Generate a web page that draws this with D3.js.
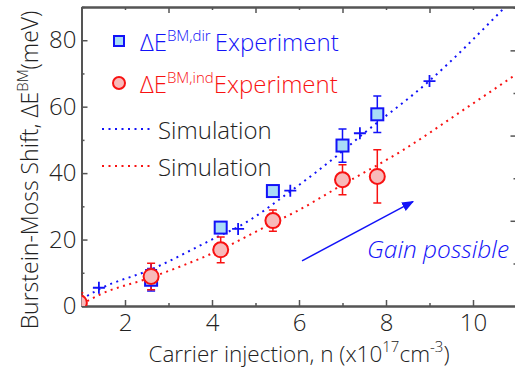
<!DOCTYPE html>
<html>
<head>
<meta charset="utf-8">
<script src="https://cdn.jsdelivr.net/npm/d3@7"></script>
<style>
  html, body { margin: 0; padding: 0; background: #fff; }
  svg { display: block; font-family: "Open Sans", "Noto Sans", sans-serif; font-weight: 300; }
</style>
</head>
<body>
<div id="chart"></div>
<script>
// Burstein-Moss shift vs carrier injection

// experiment, direct gap (squares)
const dirX   = [2.6, 4.2, 5.4, 7.0, 7.8];
const dirY   = [7.9, 23.6, 34.6, 48.3, 57.7];
const dirErr = [3.4, 1.0, 1.0, 5.0, 5.5];

// experiment, indirect gap (circles)
const indX   = [0.95, 2.6, 4.2, 5.4, 7.0, 7.8];
const indY   = [1.0, 8.9, 16.9, 25.7, 38.0, 39.0];
const indErr = [3.0, 4.0, 3.9, 3.2, 4.5, 8.0];

// simulation curves
const simDirX = [1.0, 1.4, 2.6, 4.2, 4.6, 5.8, 7.0, 7.4, 9.0, 10.7];
const simDirY = [2.0, 5.0, 11.0, 21.3, 23.8, 34.5, 46.6, 51.0, 67.8, 89.5];
const simIndX = [1.0, 1.4, 2.6, 4.2, 5.4, 5.9, 7.0, 8.4, 9.8, 11.0];
const simIndY = [0.5, 3.3, 8.6, 17.0, 25.0, 28.2, 36.5, 47.0, 59.2, 69.8];

// simulation markers (plus signs on the direct curve)
const plusX = [1.4, 2.6, 4.6, 5.8, 7.4, 9.0];
const plusY = [5.5, 10.9, 23.2, 34.7, 52.0, 67.7];

// ticks
const xMajor = [2, 4, 6, 8, 10];
const xMinor = [1, 3, 5, 7, 9, 11];
const yMajor = [0, 20, 40, 60, 80];
const yMinor = [10, 30, 50, 70, 90];
const rightMajor = [1, 2, 3];
const rightMinor = [0.5, 1.5, 2.5, 3.5];

const W = 515, H = 369;
const m = { left: 81.5, right: -1.5, top: 7, bottom: 63 };
const FS = 24;

const x = d3.scaleLinear().domain([1, 11]).range([m.left, W - m.right]);
const y = d3.scaleLinear().domain([0, 90]).range([H - m.bottom, m.top]);
const yR = d3.scaleLinear().domain([0, 90 / 25.65]).range([H - m.bottom, m.top]);

const BLUE = '#1212f8', RED = '#f81212', AXIS = '#555', INK = '#222';

const svg = d3.select('#chart').append('svg')
  .attr('width', W).attr('height', H);

svg.append('defs').append('clipPath').attr('id', 'plotClip')
  .append('rect')
  .attr('x', m.left).attr('y', m.top)
  .attr('width', x.range()[1] - m.left).attr('height', y.range()[0] - m.top);

svg.select('defs').append('marker')
  .attr('id', 'arrowHead').attr('viewBox', '0 0 10 10')
  .attr('refX', 9).attr('refY', 5)
  .attr('markerWidth', 8).attr('markerHeight', 8)
  .attr('orient', 'auto')
  .append('path').attr('d', 'M0,1 L10,5 L0,9 Z').attr('fill', BLUE);

// axes: ticks pointing inward
function styleAxis(sel) {
  sel.select('.domain').attr('stroke', AXIS).attr('stroke-width', 2);
  sel.selectAll('.tick line').attr('stroke', AXIS).attr('stroke-width', 1.5);
  sel.selectAll('text').attr('fill', INK).attr('font-size', FS + 'px')
    .attr('font-family', '"Open Sans", "Noto Sans", sans-serif')
    .attr('font-weight', 300);
}

// bottom
svg.append('g').attr('transform', `translate(0,${y.range()[0]})`)
  .call(d3.axisBottom(x).tickValues(xMajor).tickSize(-6).tickPadding(8).tickSizeOuter(0))
  .call(styleAxis);
svg.append('g').attr('transform', `translate(0,${y.range()[0]})`)
  .call(d3.axisBottom(x).tickValues(xMinor).tickSize(-3).tickFormat('').tickSizeOuter(0))
  .call(styleAxis);
// top
svg.append('g').attr('transform', `translate(0,${m.top})`)
  .call(d3.axisTop(x).tickValues(xMinor).tickSize(-6).tickFormat('').tickSizeOuter(0))
  .call(styleAxis);
svg.append('g').attr('transform', `translate(0,${m.top})`)
  .call(d3.axisTop(x).tickValues(xMajor).tickSize(-3).tickFormat('').tickSizeOuter(0))
  .call(styleAxis);
// left
svg.append('g').attr('transform', `translate(${m.left},0)`)
  .call(d3.axisLeft(y).tickValues(yMajor).tickSize(-6).tickPadding(5).tickSizeOuter(0))
  .call(styleAxis);
svg.append('g').attr('transform', `translate(${m.left},0)`)
  .call(d3.axisLeft(y).tickValues(yMinor).tickSize(-3).tickFormat('').tickSizeOuter(0))
  .call(styleAxis);
// right (secondary scale, labels off-canvas)
svg.append('g').attr('transform', `translate(${x.range()[1]},0)`)
  .call(d3.axisRight(yR).tickValues(rightMajor).tickSize(-6).tickFormat('').tickSizeOuter(0))
  .call(styleAxis);
svg.append('g').attr('transform', `translate(${x.range()[1]},0)`)
  .call(d3.axisRight(yR).tickValues(rightMinor).tickSize(-3).tickFormat('').tickSizeOuter(0))
  .call(styleAxis);

const plot = svg.append('g').attr('clip-path', 'url(#plotClip)');

// simulation curves
const line = d3.line().x(d => x(d[0])).y(d => y(d[1])).curve(d3.curveMonotoneX);
plot.append('path').datum(d3.zip(simDirX, simDirY)).attr('d', line)
  .attr('fill', 'none').attr('stroke', BLUE).attr('stroke-width', 2)
  .attr('stroke-dasharray', '2,4.5');
plot.append('path').datum(d3.zip(simIndX, simIndY)).attr('d', line)
  .attr('fill', 'none').attr('stroke', RED).attr('stroke-width', 2)
  .attr('stroke-dasharray', '2,4.5');

// plus markers
plot.selectAll('.plus').data(d3.zip(plusX, plusY)).enter().append('path')
  .attr('d', d => `M${x(d[0]) - 6},${y(d[1])}h12M${x(d[0])},${y(d[1]) - 6}v12`)
  .attr('stroke', BLUE).attr('stroke-width', 1.8);

// error bars
function errorBars(xs, ys, es, color) {
  const g = plot.append('g').attr('stroke', color).attr('stroke-width', 1.5);
  xs.forEach((xv, i) => {
    const cx = x(xv), y0 = y(ys[i] - es[i]), y1 = y(ys[i] + es[i]);
    g.append('line').attr('x1', cx).attr('x2', cx).attr('y1', y0).attr('y2', y1);
    g.append('line').attr('x1', cx - 4).attr('x2', cx + 4).attr('y1', y0).attr('y2', y0);
    g.append('line').attr('x1', cx - 4).attr('x2', cx + 4).attr('y1', y1).attr('y2', y1);
  });
}
errorBars(dirX, dirY, dirErr, BLUE);
errorBars(indX, indY, indErr, RED);

// squares (direct)
plot.selectAll('.sq').data(d3.zip(dirX, dirY)).enter().append('rect')
  .attr('x', d => x(d[0]) - 6).attr('y', d => y(d[1]) - 6)
  .attr('width', 12).attr('height', 12)
  .attr('fill', '#a9dcf7').attr('stroke', BLUE).attr('stroke-width', 2);

// circles (indirect)
plot.selectAll('.ci').data(d3.zip(indX, indY)).enter().append('circle')
  .attr('cx', d => x(d[0])).attr('cy', d => y(d[1])).attr('r', 7.5)
  .attr('fill', '#f8baba').attr('stroke', RED).attr('stroke-width', 2);

// arrow + label
svg.append('line')
  .attr('x1', x(6.07)).attr('y1', y(13.6))
  .attr('x2', x(8.62)).attr('y2', y(31.4))
  .attr('stroke', BLUE).attr('stroke-width', 1.5)
  .attr('marker-end', 'url(#arrowHead)');
svg.append('text')
  .attr('x', 367).attr('y', 258)
  .attr('fill', BLUE).attr('font-size', '24.5px').attr('font-style', 'italic')
  .text('Gain possible');

// legend
const leg = svg.append('g');
leg.append('rect').attr('x', 114).attr('y', 36).attr('width', 10).attr('height', 10)
  .attr('fill', '#a9dcf7').attr('stroke', BLUE).attr('stroke-width', 2);
leg.append('circle').attr('cx', 119).attr('cy', 83).attr('r', 6)
  .attr('fill', '#f8baba').attr('stroke', RED).attr('stroke-width', 2);

function legendLabel(yPos, color, sup, gap) {
  const t = leg.append('text').attr('x', 140).attr('y', yPos)
    .attr('fill', color).attr('font-size', FS + 'px');
  t.append('tspan').text('ΔE');
  t.append('tspan').attr('font-size', '15px').attr('dy', -10).text(sup);
  t.append('tspan').attr('dy', 10).attr('dx', gap).text('Experiment');
}
legendLabel(51, BLUE, 'BM,dir', 4);
legendLabel(93, RED, 'BM,ind', 0);

leg.append('line').attr('x1', 102).attr('x2', 150).attr('y1', 129).attr('y2', 129)
  .attr('stroke', BLUE).attr('stroke-width', 2).attr('stroke-dasharray', '2,4.5');
leg.append('line').attr('x1', 102).attr('x2', 150).attr('y1', 166).attr('y2', 166)
  .attr('stroke', RED).attr('stroke-width', 2).attr('stroke-dasharray', '2,4.5');
leg.append('text').attr('x', 158).attr('y', 139).attr('fill', INK)
  .attr('font-size', FS + 'px').text('Simulation');
leg.append('text').attr('x', 158).attr('y', 176).attr('fill', INK)
  .attr('font-size', FS + 'px').text('Simulation');

// axis titles
const xt = svg.append('text').attr('x', 299).attr('y', 362)
  .attr('text-anchor', 'middle').attr('fill', INK).attr('font-size', '22.5px');
xt.append('tspan').text('Carrier injection, n (x10');
xt.append('tspan').attr('font-size', '15px').attr('dy', -10).text('17');
xt.append('tspan').attr('dy', 10).text('cm');
xt.append('tspan').attr('font-size', '15px').attr('dy', -10).text('-3');
xt.append('tspan').attr('dy', 10).text(')');

const yt = svg.append('text')
  .attr('transform', `translate(38,170) rotate(-90)`)
  .attr('text-anchor', 'middle').attr('fill', INK).attr('font-size', '23px');
yt.append('tspan').text('Burstein-Moss Shift, ΔE');
yt.append('tspan').attr('font-size', '15px').attr('dy', -10).text('BM');
yt.append('tspan').attr('dy', 10).text('(meV)');
</script>
</body>
</html>
